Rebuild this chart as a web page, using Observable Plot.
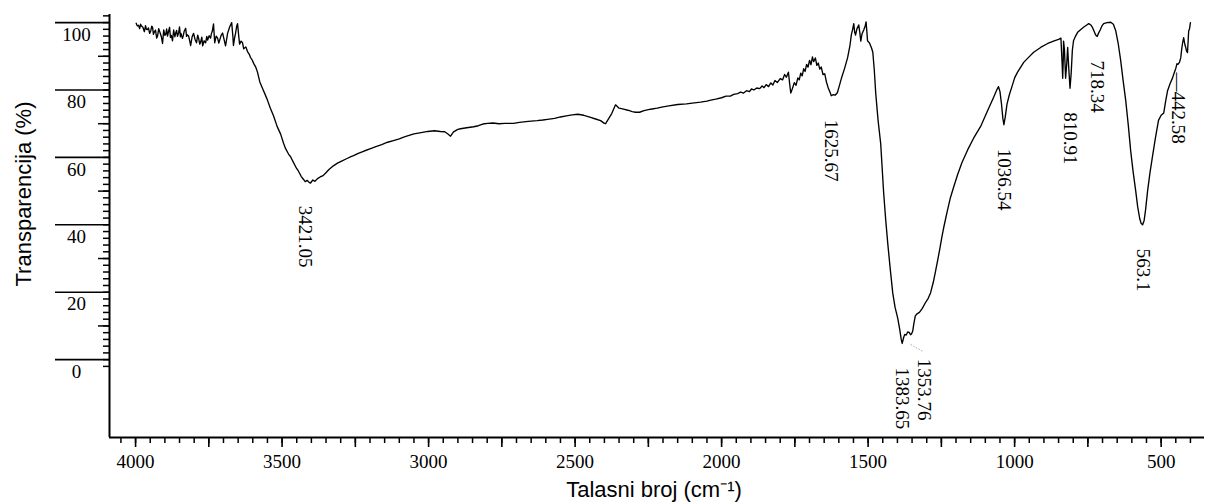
<!DOCTYPE html>
<html><head><meta charset="utf-8">
<script src="https://cdn.jsdelivr.net/npm/d3@7"></script>
<script src="https://cdn.jsdelivr.net/npm/@observablehq/plot@0.6"></script>
<style>html,body{margin:0;padding:0;background:#fff;}</style>
</head><body><div id="chart"></div>
<script>
// FTIR spectrum: wavenumber (cm^-1) and transmittance (%)
const wavenumber = [
3998,3994,3990,3986,3983,3979,3975,3970,3966,3963,3960,3956,3952,3948,3945,3942,3939,3936,3932,3928,3925,3921,3918,3915,3912,3908,3904,3900,3897,3894,3891,3888,3884,3881,3878,
3874,3870,3866,3863,3860,3857,3853,3850,3847,3845,3840,3837,3834,3829,3826,3824,3819,3815,3812,3807,3802,3797,3792,3788,3785,3781,3778,3774,3771,
3766,3761,3757,3754,3749,3744,3741,3738,3734,3730,3725,3720,3716,3713,3708,3703,3698,3693,3689,3686,3679,3672,
3668,3666,3662,3659,3655,3652,3648,3645,3640,3635,3631,3624,3618,3612,3608,3602,3597,3590,3584,3576,
3567,3558,3550,3540,3529,3517,3505,3495,3488,3478,3471,3460,3451,3444,3435,3428,3421,3414,3408,3403,
3395,3388,3379,3370,3360,3352,3340,3325,3311,3295,3280,3265,3256,3240,3220,3198,3180,3160,3140,3120,
3100,3085,3072,3050,3030,3003,2980,2960,2945,2935,2925,2915,2900,2891,2870,2846,2830,2815,2799,2780,
2760,2740,2710,2690,2660,2630,2610,2594,2570,2550,2530,2510,2491,2470,2447,2430,2413,2400,2396,2375,
2362,2350,2338,2320,2305,2294,2280,2265,2242,2220,2200,2180,2150,2120,2100,2072,2050,2037,2020,2000,
1985,1970,1959,1945,1935,1925,1915,1905,1898,1890,1880,1870,1862,1855,1848,1840,1832,1825,1818,1810,
1800,1792,1785,1779,1772,1768,1764,1758,1752,1746,1740,1735,1730,1725,1720,1715,1710,1705,1700,1695,
1690,1686,1680,1675,1670,1665,1660,1654,1648,1642,1636,1630,1625.67,1619,1612,1605,1598,1590,1580,1570,
1562,1557,1553,1549,1546,1543,1538,1532,1528,1525,1521,1515,1510,1507,1504,1502,1495,1488,1484,1479,
1474,1466,1457,1447,1440,1433,1424,1416,1408,1399,1392,1387,1383.65,1379,1375,1370,1365,1360,1355,1352,
1348,1344,1339,1333,1325,1315,1305,1295,1287,1278,1270,1263,1255,1248,1242,1230,1220,1208,1195,1180,
1160,1140,1116,1095,1072,1060,1055,1050,1045,1040,1036.54,1032,1026,1018,1007,1000,990,969,950,935,
910,887,865,850,842,838,836,834,833,830,826,822,819,815,810.91,807,803,799,792,785,
775,765,755,747,740,734,728,724,718.34,714,708,702,696,685,672,663,655,646,638,630,
621,612,604,596,587,580,573,568,563.1,558,553,546,538,530,520,509,500,491,485,478,
470,461,455,450,446,442.58,437,433,430,427,423,419,416,413,410,406,403,400
];
const transmittance = [
99.8,99.0,99.2,98.2,99.5,98.9,98.6,97.3,99.1,98.0,97.9,98.4,96.8,97.6,98.9,98.6,96.5,97.2,97.8,95.4,96.0,98.2,97.4,96.6,95.8,93.8,97.8,96.2,96.5,98.1,96.0,97.2,98.6,95.6,96.2,
94.6,97.8,95.8,96.9,97.7,95.9,97.0,98.7,95.8,96.8,95.3,96.2,97.5,98.3,95.9,96.4,96.0,94.5,93.2,95.8,96.8,95.0,94.0,96.3,95.4,93.6,94.2,95.7,93.1,
94.6,94.0,95.9,94.8,96.1,95.4,96.8,97.5,99.6,94.0,96.0,95.4,93.9,94.8,96.2,96.9,95.0,93.1,95.2,96.8,98.7,100.0,
96.0,93.2,95.5,96.7,98.9,99.7,96.0,93.6,94.5,94.0,92.2,92.8,91.4,90.6,89.7,88.9,87.9,86.8,85.3,82.4,
80.5,78.7,77.0,74.6,72.3,69.2,66.9,64.2,62.6,61.0,60.2,58.3,56.8,55.9,54.4,53.6,52.8,53.2,52.6,52.4,
53.3,52.9,53.7,54.2,54.6,55.3,56.4,57.5,58.3,59.0,59.6,60.2,60.5,61.2,61.9,62.6,63.2,63.8,64.5,65.0,
65.5,66.0,66.4,67.0,67.3,67.7,67.9,67.7,67.6,67.0,66.3,67.6,68.3,68.5,68.8,69.1,69.4,69.9,70.1,70.2,
70.0,70.1,70.1,70.4,70.7,70.9,71.1,71.3,71.6,72.0,72.3,72.6,72.8,72.5,71.9,71.4,70.9,70.1,70.0,73.0,
75.6,74.6,74.4,74.0,73.6,73.4,73.4,73.9,74.3,74.6,75.0,75.3,75.7,75.9,76.1,76.4,76.7,77.0,77.3,77.7,
78.2,78.2,78.7,78.9,79.4,79.1,79.8,79.5,80.3,80.0,80.6,80.4,81.2,80.7,81.6,81.0,82.1,81.5,82.8,82.2,
83.4,83.0,84.6,83.8,85.3,82.0,79.1,80.5,82.2,81.4,83.6,83.0,85.0,84.2,86.3,85.5,87.6,86.8,88.8,87.5,
89.8,88.4,89.5,87.3,88.0,86.2,86.8,84.6,84.8,82.3,80.6,79.3,78.3,78.6,78.5,79.2,81.3,83.8,86.5,89.6,
93.2,96.5,97.9,99.7,97.2,96.3,98.2,99.3,96.8,94.5,96.6,97.8,99.0,100.2,97.0,94.6,93.9,92.4,91.2,86.0,
79.0,71.0,64.0,49.5,41.5,34.5,26.5,19.8,15.5,12.3,8.9,6.0,4.8,6.5,7.5,7.3,8.2,8.1,7.4,7.6,
8.4,10.6,13.0,13.6,14.0,15.2,16.8,18.2,19.8,22.8,26.2,29.3,33.0,36.5,39.2,44.0,47.8,51.2,54.8,58.4,
62.3,65.7,69.2,73.3,77.8,80.2,81.0,79.5,76.0,71.5,69.7,72.0,75.8,78.6,81.6,83.6,85.3,88.2,89.9,91.2,
92.7,93.8,94.6,95.0,95.4,88.0,83.5,89.0,94.5,92.0,83.5,88.0,92.6,86.0,80.5,85.0,91.8,94.6,96.0,97.1,
97.9,98.6,99.2,99.7,99.3,98.5,97.3,96.4,95.9,96.8,97.8,99.0,99.7,100.0,100.1,99.5,97.6,93.5,88.7,83.0,
77.0,69.5,62.0,56.0,50.2,45.3,41.8,40.4,40.0,41.3,44.5,50.2,55.5,60.0,65.5,71.0,72.5,73.2,76.5,79.8,
81.8,83.6,85.2,86.4,87.8,87.6,88.3,89.6,92.0,93.8,95.5,93.5,92.6,91.5,91.1,97.5,98.2,100.0
];

// Peak annotations
const peakWavenumbers = [3421.05, 1625.67, 1383.65, 1353.76, 1036.54, 810.91, 718.34, 563.1, 442.58];
const peakLabels = ["3421.05", "1625.67", "1383.65", "1353.76", "1036.54", "810.91", "718.34", "563.1", "—442.58"];
// faint leader for the 1353.76 label (data units)
const leaderFrom = [1355, 4.5];
const leaderTo = [1312, 2.4];

// Axes
const xTickLabels = [4000, 3500, 3000, 2500, 2000, 1500, 1000, 500];
const yTickLabels = [0, 20, 40, 60, 80, 100];
const xDomain = [4089, 352];
const yDomain = [-23.1, 102.4];

const spectrum = wavenumber.map((w, i) => ({w, t: transmittance[i]}));
function tAt(w) {
  let best = spectrum[0];
  for (const d of spectrum) if (Math.abs(d.w - w) < Math.abs(best.w - w)) best = d;
  return best.t;
}
const peaks = peakWavenumbers.map((w, i) => ({w, t: tAt(w), label: peakLabels[i]}));
const mainPeaks = peaks.filter(p => p.label !== "1353.76" && !p.label.startsWith("—"));
const shiftedPeaks = peaks.filter(p => p.label === "1353.76");
const dashPeaks = peaks.filter(p => p.label.startsWith("—"));

const serif = "'Liberation Serif', 'Times New Roman', serif";
const sans = "'Liberation Sans', Arial, sans-serif";
const none = () => "";

const chart = Plot.plot({
  width: 1205,
  height: 504,
  marginLeft: 109,
  marginRight: 1,
  marginTop: 14,
  marginBottom: 67,
  style: {fontFamily: serif, fontSize: "19px", color: "#000", background: "#fff"},
  x: {domain: xDomain, axis: null},
  y: {domain: yDomain, axis: null},
  marks: [
    // y axis ticks
    Plot.axisY({ticks: d3.range(-2, 103, 2), tickSize: 6, tickFormat: none, label: null, strokeWidth: 1.5}),
    Plot.axisY({ticks: d3.range(10, 101, 20), tickSize: 11, tickFormat: none, label: null, strokeWidth: 1.5}),
    Plot.axisY({ticks: yTickLabels, tickSize: 54, tickFormat: none, label: null, strokeWidth: 1.6}),
    Plot.text(yTickLabels, {y: d => d, text: d => String(d), frameAnchor: "left", dx: -33, dy: 12,
      textAnchor: "middle", lineAnchor: "middle", fontFamily: serif, fontSize: 19}),
    // x axis ticks
    Plot.axisX({ticks: d3.range(400, 4051, 50), tickSize: 6, tickFormat: none, label: null, strokeWidth: 1.5}),
    Plot.axisX({ticks: d3.range(500, 4001, 250), tickSize: 10, tickFormat: none, label: null, strokeWidth: 1.6}),
    Plot.text(xTickLabels, {x: d => d, text: d => String(d), frameAnchor: "bottom", dy: 17,
      textAnchor: "middle", lineAnchor: "top", fontFamily: serif, fontSize: 19}),
    // axis lines
    Plot.ruleX([xDomain[0]], {strokeWidth: 2}),
    Plot.ruleY([yDomain[0]], {strokeWidth: 2}),
    // spectrum
    Plot.line(spectrum, {x: "w", y: "t", stroke: "#000", strokeWidth: 1.35, curve: "linear"}),
    // peak labels
    Plot.text(mainPeaks, {x: "w", y: "t", text: "label", rotate: 90, textAnchor: "start", lineAnchor: "middle",
      dy: 24, fontFamily: serif, fontSize: 19}),
    Plot.text(shiftedPeaks, {x: "w", y: "t", text: "label", rotate: 90, textAnchor: "start", lineAnchor: "middle",
      dy: 24, dx: 13, fontFamily: serif, fontSize: 19}),
    Plot.text(dashPeaks, {x: "w", y: "t", text: "label", rotate: 90, textAnchor: "start", lineAnchor: "middle",
      dy: 8, fontFamily: serif, fontSize: 19}),
    Plot.link([0], {x1: () => leaderFrom[0], y1: () => leaderFrom[1], x2: () => leaderTo[0], y2: () => leaderTo[1],
      stroke: "#999", strokeWidth: 0.8, strokeDasharray: "1.5,1.5"}),
    // titles
    Plot.text(["Talasni broj (cm⁻¹)"], {text: d => d, frameAnchor: "bottom", dx: -3, dy: 52,
      textAnchor: "middle", lineAnchor: "middle", fontFamily: sans, fontSize: 22}),
    Plot.text(["Transparencija (%)"], {text: d => d, frameAnchor: "left", rotate: -90, dx: -86, dy: -32,
      textAnchor: "middle", lineAnchor: "middle", fontFamily: sans, fontSize: 22})
  ]
});
document.getElementById("chart").appendChild(chart);
</script>
</body></html>
